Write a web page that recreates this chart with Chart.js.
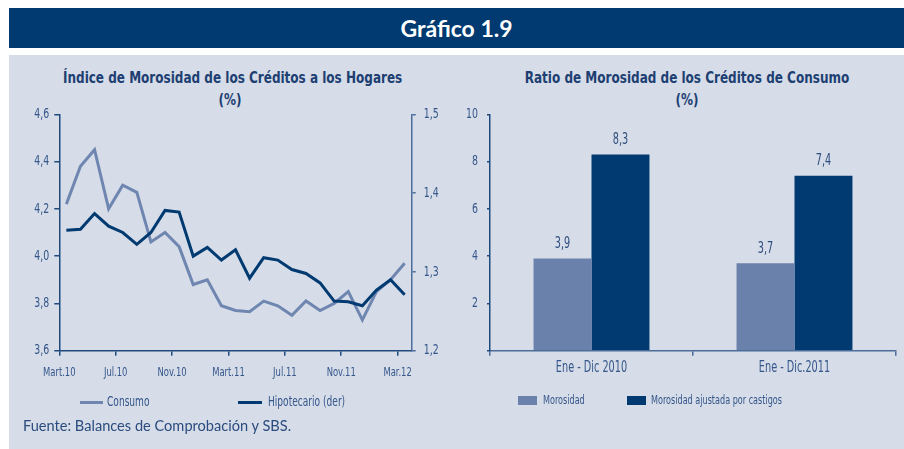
<!DOCTYPE html>
<html>
<head>
<meta charset="utf-8">
<script src="https://cdn.jsdelivr.net/npm/chart.js@4.4.1/dist/chart.umd.min.js"></script>
<style>
  html, body { margin: 0; padding: 0; background: #ffffff; }
  #wrap { position: relative; width: 904px; height: 449px; overflow: hidden; }
  #header { position: absolute; left: 9px; top: 8px; width: 895px; height: 40px; background: #003a70;
    color: #ffffff; font: bold 23px Lato, 'Open Sans', sans-serif; text-align: center; line-height: 40px; }
  #panel { position: absolute; left: 9px; top: 55px; width: 895px; height: 394px; background: #d6dce8; }
  canvas { position: absolute; left: 0; top: 0; }
  .title { position: absolute; color: #1d3f72; font: bold 16px 'DejaVu Sans Condensed', sans-serif;
    text-align: center; white-space: nowrap; transform: scaleX(0.835); transform-origin: 50% 50%; }
  .leg { position: absolute; color: #34568a; font: 14px 'DejaVu Sans Condensed', sans-serif; white-space: nowrap;
    transform: scaleX(0.72); transform-origin: 0 50%; }
  .sw { position: absolute; }
  #fuente { position: absolute; left: 23px; top: 417px; color: #2a4c7e; font: 14.6px Lato, 'Open Sans', sans-serif; white-space: nowrap; }
</style>
</head>
<body>
<div id="wrap">
  <div id="header">Gráfico 1.9</div>
  <div id="panel"></div>
  <div class="title" style="left:30px; width:400px; top:68px;">Índice de Morosidad de los Créditos a los Hogares</div>
  <div class="title" style="left:30px; width:400px; top:90px;">(%)</div>
  <div class="title" style="left:487px; width:400px; top:68px;">Ratio de Morosidad de los Créditos de Consumo</div>
  <div class="title" style="left:487px; width:400px; top:90px;">(%)</div>
  <canvas id="lineChart" width="904" height="449"></canvas>
  <canvas id="barChart" width="904" height="449"></canvas>
  <div class="sw" style="left:80px; top:401px; width:23px; height:3px; background:#6f87b0;"></div>
  <div class="leg" style="left:107px; top:393px;">Consumo</div>
  <div class="sw" style="left:238px; top:401px; width:24px; height:3px; background:#003a70;"></div>
  <div class="leg" style="left:268px; top:393px;">Hipotecario (der)</div>
  <div class="sw" style="left:518px; top:396px; width:19px; height:9px; background:#6a82ab;"></div>
  <div class="leg" style="left:543px; top:392px; font-size:12.5px;">Morosidad</div>
  <div class="sw" style="left:627px; top:396px; width:19px; height:9px; background:#003a70;"></div>
  <div class="leg" style="left:651px; top:392px; font-size:12.5px;">Morosidad ajustada por castigos</div>
  <div id="fuente">Fuente: Balances de Comprobación y SBS.</div>
</div>
<script>
// ---- Data ----
const months = ['Mar.10','Abr.10','May.10','Jun.10','Jul.10','Ago.10','Sep.10','Oct.10','Nov.10','Dic.10',
  'Ene.11','Feb.11','Mar.11','Abr.11','May.11','Jun.11','Jul.11','Ago.11','Sep.11','Oct.11','Nov.11','Dic.11',
  'Ene.12','Feb.12','Mar.12'];
const tickLabels = ['Mart.10','Jul.10','Nov.10','Mart.11','Jul.11','Nov.11','Mar.12'];
const tickMonths = ['Mar.10','Jul.10','Nov.10','Mar.11','Jul.11','Nov.11','Mar.12'];
const consumo = [4.22, 4.38, 4.45, 4.20, 4.30, 4.27, 4.06, 4.10, 4.04, 3.88, 3.90, 3.79, 3.77,
  3.765, 3.81, 3.79, 3.75, 3.81, 3.77, 3.80, 3.85, 3.73, 3.85, 3.90, 3.97];
const hipotecario = [1.353, 1.354, 1.374, 1.358, 1.350, 1.335, 1.350, 1.378, 1.376, 1.320, 1.331, 1.315, 1.328,
  1.292, 1.318, 1.315, 1.303, 1.298, 1.286, 1.263, 1.262, 1.257, 1.277, 1.290, 1.271];

const barCategories = ['Ene - Dic 2010', 'Ene - Dic.2011'];
const morosidad = [3.9, 3.7];
const morosidadAjustada = [8.3, 7.4];

// ---- Styles ----
const NARROW = "'DejaVu Sans Condensed', sans-serif";
const LIGHT = '#6f87b0';
const DARK = '#003a70';
const TICK_TXT = '#34568a';
const AXIS = '#1f4a7c';
const AXIS2 = '#4a6d9c';
const fmt = v => Number(v).toFixed(1).replace('.', ',');

// Draw all canvas text horizontally condensed (the original uses a condensed face)
const condense = {
  id: 'condense',
  beforeInit(chart) {
    const ctx = chart.ctx;
    const orig = ctx.fillText.bind(ctx);
    ctx.fillText = function (text, x, y) {
      ctx.save();
      ctx.translate(x, y);
      ctx.scale(0.72, 1);
      orig(text, 0, 0);
      ctx.restore();
    };
  }
};

// ---- Line chart ----
const toPts = arr => arr.map((v, i) => ({ x: i + 0.5, y: v }));
const tickPositions = tickMonths.map(m => months.indexOf(m));

new Chart(document.getElementById('lineChart'), {
  type: 'line',
  data: {
    datasets: [
      { label: 'Hipotecario (der)', data: toPts(hipotecario), yAxisID: 'y1', borderColor: DARK, borderWidth: 3,
        pointRadius: 0, tension: 0, order: 0 },
      { label: 'Consumo', data: toPts(consumo), yAxisID: 'y', borderColor: LIGHT, borderWidth: 3,
        pointRadius: 0, tension: 0, order: 1 }
    ]
  },
  options: {
    responsive: false, animation: false, events: [],
    layout: { padding: { left: 0, right: 904 - 411.7 - 40, top: 114.3, bottom: 449 - 350.7 - 30 } },
    plugins: { legend: { display: false }, tooltip: { enabled: false } },
    scales: {
      x: {
        type: 'linear', min: 0, max: months.length, bounds: 'data',
        afterBuildTicks: s => { s.ticks = tickPositions.map(v => ({ value: v })); },
        afterFit: s => { s.height = 30; },
        ticks: { autoSkip: false, maxRotation: 0, padding: 9, color: TICK_TXT,
          font: { family: NARROW, size: 13 },
          callback: (v) => tickLabels[tickPositions.indexOf(v)] },
        grid: { drawOnChartArea: false, color: AXIS, tickLength: 5, lineWidth: 1.5 },
        border: { color: AXIS, width: 1.5 }
      },
      y: {
        position: 'left', min: 3.6, max: 4.6,
        afterFit: s => { s.width = 59.3; },
        ticks: { stepSize: 0.2, padding: 5, color: TICK_TXT, font: { family: NARROW, size: 14.5 }, callback: fmt },
        grid: { drawOnChartArea: false, color: AXIS, tickLength: 5, lineWidth: 1.5 },
        border: { color: AXIS, width: 1.5 }
      },
      y1: {
        position: 'right', min: 1.2, max: 1.5,
        afterFit: s => { s.width = 40; },
        ticks: { stepSize: 0.1, padding: 8, color: TICK_TXT, font: { family: NARROW, size: 14.5 }, callback: fmt },
        grid: { drawOnChartArea: false, color: AXIS2, tickLength: 4, lineWidth: 1.5 },
        border: { color: AXIS2, width: 1.5 }
      }
    }
  },
  plugins: [condense]
});

// ---- Bar chart ----
const barLabels = {
  id: 'barLabels',
  afterDatasetsDraw(chart) {
    const ctx = chart.ctx;
    ctx.save();
    ctx.fillStyle = '#2d4d7e';
    ctx.font = '15px ' + NARROW;
    ctx.textAlign = 'center';
    ctx.textBaseline = 'bottom';
    chart.data.datasets.forEach((ds, di) => {
      chart.getDatasetMeta(di).data.forEach((bar, i) => {
        ctx.fillText(fmt(ds.data[i]), bar.x, bar.y - 7);
      });
    });
    ctx.restore();
  }
};

new Chart(document.getElementById('barChart'), {
  type: 'bar',
  data: {
    labels: barCategories,
    datasets: [
      { label: 'Morosidad', data: morosidad, backgroundColor: '#6a82ab', borderWidth: 0 },
      { label: 'Morosidad ajustada por castigos', data: morosidadAjustada, backgroundColor: DARK, borderWidth: 0 }
    ]
  },
  options: {
    responsive: false, animation: false, events: [],
    categoryPercentage: 0.571, barPercentage: 1.0,
    layout: { padding: { left: 440, right: 8, top: 114.3, bottom: 449 - 350.7 - 30 } },
    plugins: { legend: { display: false }, tooltip: { enabled: false } },
    scales: {
      x: {
        afterFit: s => { s.height = 30; },
        ticks: { padding: 3, color: TICK_TXT, font: { family: NARROW, size: 15 } },
        grid: { offset: true, drawOnChartArea: false, color: AXIS2, tickLength: 5, lineWidth: 1.5 },
        border: { color: AXIS2, width: 1.5 }
      },
      y: {
        min: 0, max: 10,
        afterFit: s => { s.width = 50; },
        ticks: { stepSize: 2, padding: 9, color: TICK_TXT, font: { family: NARROW, size: 14.5 },
          callback: v => (v === 0 ? '' : v) },
        grid: { drawOnChartArea: false, color: AXIS, tickLength: 3, lineWidth: 1.5 },
        border: { color: AXIS, width: 1.5 }
      }
    }
  },
  plugins: [condense, barLabels]
});
</script>
</body>
</html>
